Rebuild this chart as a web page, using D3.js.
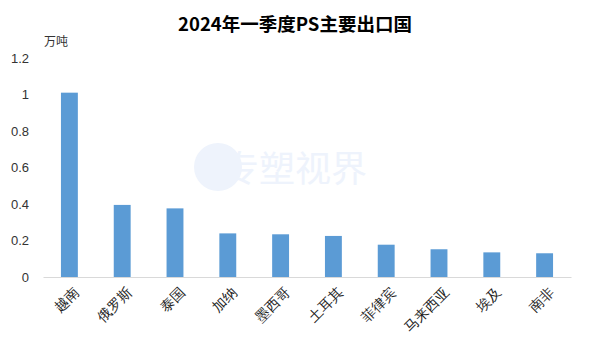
<!DOCTYPE html>
<html>
<head>
<meta charset="utf-8">
<script src="https://cdn.jsdelivr.net/npm/d3@7"></script>
<style>
  body { margin: 0; background: #fff; }
  svg { font-family: "Noto Sans CJK SC", "Liberation Sans", sans-serif; }
</style>
</head>
<body>
<div id="chart"></div>
<script>
// data
const countries = ["越南", "俄罗斯", "泰国", "加纳", "墨西哥", "土耳其", "菲律宾", "马来西亚", "埃及", "南非"];
const volumes = [1.01, 0.395, 0.376, 0.239, 0.234, 0.225, 0.177, 0.152, 0.135, 0.13];
const yTicks = [0, 0.2, 0.4, 0.6, 0.8, 1, 1.2];

const width = 590, height = 354;
const margin = {top: 58, left: 43, right: 19, bottom: 77};

const svg = d3.select("#chart").append("svg")
    .attr("width", width)
    .attr("height", height);

// faint watermark behind the chart (only the one fully inside the frame)
const wm = svg.append("g").attr("class", "watermark");
wm.append("circle")
    .attr("cx", 218).attr("cy", 167).attr("r", 24)
    .style("fill", "#eef3fc");
wm.append("text")
    .attr("x", 295).attr("y", 182)
    .attr("text-anchor", "middle")
    .style("font-size", "36px")
    .style("fill", "#eef3fc")
    .text("专塑视界");

const x = d3.scaleBand()
    .domain(countries)
    .range([margin.left, width - margin.right])
    .paddingInner(0.68)
    .paddingOuter(0.34);

const y = d3.scaleLinear()
    .domain([0, 1.2])
    .range([height - margin.bottom, margin.top]);

// title
svg.append("text")
    .attr("x", 295).attr("y", 31)
    .attr("text-anchor", "middle")
    .style("font-size", "18.5px")
    .style("font-weight", "bold")
    .style("fill", "#000")
    .text("2024年一季度PS主要出口国");

// unit
svg.append("text")
    .attr("x", 44).attr("y", 46)
    .style("font-size", "12px")
    .style("fill", "#333")
    .text("万吨");

// y axis labels
const yAxis = svg.append("g")
    .attr("transform", `translate(${margin.left - 14}, 0)`)
    .call(d3.axisLeft(y).tickValues(yTicks).tickSize(0).tickPadding(0).tickFormat(d3.format("~g")));
yAxis.select(".domain").remove();
yAxis.selectAll("text")
    .style("font-family", "'Liberation Sans', sans-serif")
    .style("font-size", "13px")
    .style("fill", "#333");

// bars
svg.append("g").selectAll("rect")
    .data(countries)
    .enter()
    .append("rect")
    .attr("x", d => x(d))
    .attr("y", (d, i) => y(volumes[i]))
    .attr("width", x.bandwidth())
    .attr("height", (d, i) => y(0) - y(volumes[i]))
    .style("fill", "#5b9bd5");

// x axis
const xAxis = svg.append("g")
    .attr("transform", `translate(0, ${y(0)})`)
    .call(d3.axisBottom(x).tickSize(0).tickPadding(0));
xAxis.select(".domain")
    .style("stroke", "#d9d9d9")
    .style("stroke-width", 1);
xAxis.selectAll("text")
    .style("font-size", "14px")
    .style("fill", "#222")
    .attr("text-anchor", "end")
    .attr("dy", "0.35em")
    .attr("transform", "translate(7, 13) rotate(-45)");
</script>
</body>
</html>
